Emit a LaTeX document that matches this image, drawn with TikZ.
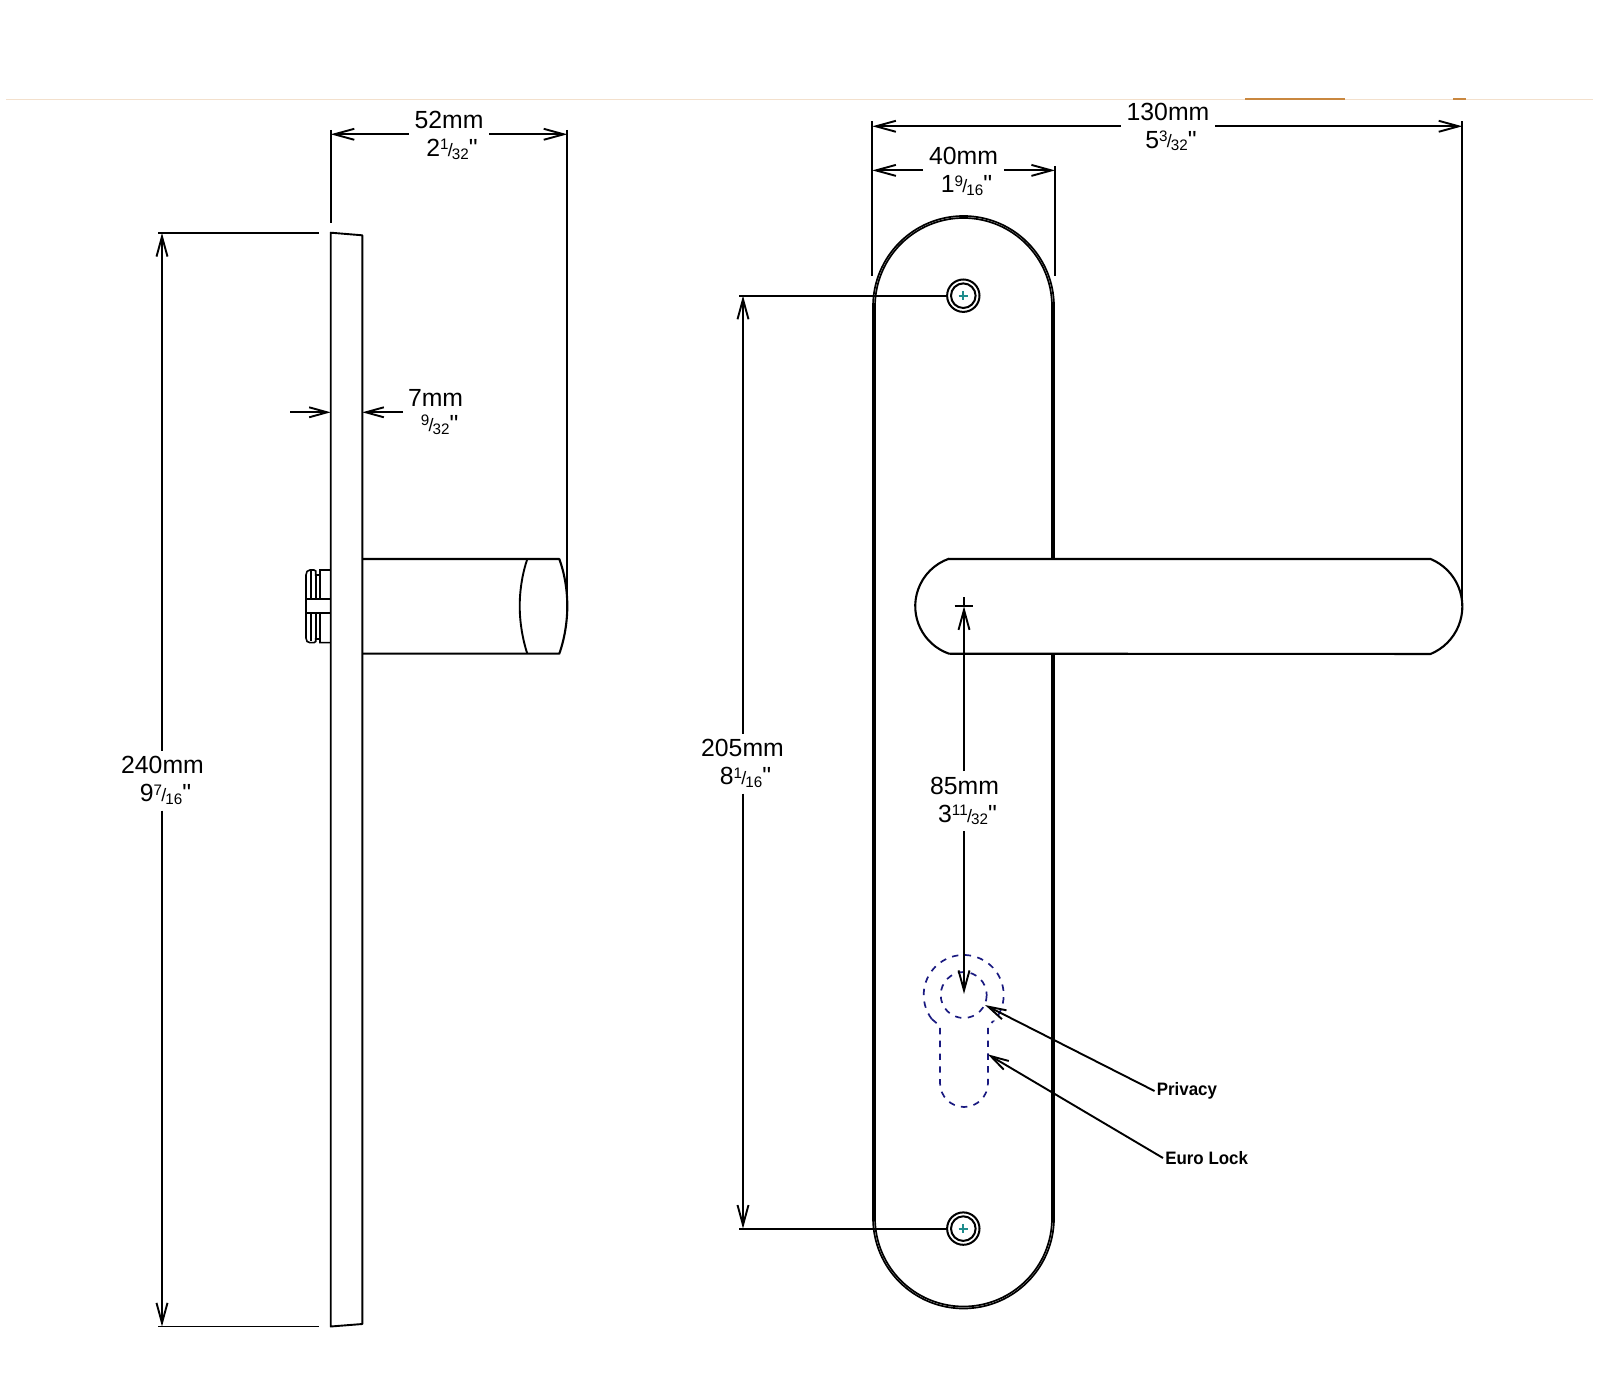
\documentclass[tikz,border=0pt]{standalone}
\usepackage{fontspec}
\setmainfont{Liberation Sans}
\newfontfamily\quotefont{Liberation Sans}[Ligatures=ResetAll]
\usetikzlibrary{arrows.meta}
\definecolor{rulefaint}{HTML}{F3E0CC}
\definecolor{ruledark}{HTML}{C9873F}
\definecolor{lockblue}{HTML}{1A1A80}
\definecolor{screwteal}{HTML}{1E8C8C}
\newcommand{\smallfs}{\fontsize{7.6}{8}\selectfont}
\newcommand{\fr}[3]{\kern3pt #1\raisebox{3.4pt}{\smallfs #2}\kern-0.3pt\raisebox{0.2pt}{\fontsize{9}{9}\selectfont /}\kern-0.5pt\raisebox{-1.2pt}{\smallfs #3}{\quotefont"}}
\tikzset{
  x=0.5pt,y=-0.5pt,
  part/.style={draw=black,line width=1.05pt,line join=round},
  thinpart/.style={draw=black,line width=0.8pt},
  dimline/.style={draw=black,line width=0.95pt},
  dimarrow/.style={dimline,-{Straight Barb[length=10pt,width=5.5pt,line width=0.95pt]}},
  smallarrow/.style={dimline,-{Straight Barb[length=9pt,width=5pt,line width=0.95pt]}},
  dimlabel/.style={font=\fontsize{12.4}{14}\selectfont,align=center,inner sep=3pt,outer sep=0pt},
  calllabel/.style={font=\fontsize{9}{10}\selectfont\bfseries,inner sep=1pt,anchor=west,xscale=0.94},
  lockline/.style={draw=lockblue,line width=0.85pt,dash pattern=on 3.2pt off 3.2pt},
  screwring/.style={circle,draw=black,line width=1pt,inner sep=0pt,fill=white},
  screwplus/.style={draw=screwteal,line width=0.95pt},
}
\begin{document}
\begin{tikzpicture}
\useasboundingbox (0,0) rectangle (1600,1400);
% top rule
\draw[rulefaint,line width=0.7pt] (6,99.5) -- (1593,99.5);
\draw[ruledark,line width=1pt] (1245,99.5) -- (1345,99.5);
\draw[ruledark,line width=1pt] (1453,99.5) -- (1466,99.5);

% ---------- side view ----------
\draw[part,line width=0.95pt] (330.7,1326.5) -- (330.7,232.7) -- (362.3,235.3) -- (362.3,1324) -- cycle;
% lever, side
\draw[part] (362.3,559) -- (559.3,559) .. controls (564.5,573) and (567.3,590) .. (567.3,606)
  .. controls (567.3,622) and (564.5,639) .. (559.3,653.7) -- (362.3,653.7);
\draw[part,line width=0.95pt] (527.3,559) .. controls (522.5,573) and (519.7,590) .. (519.7,606)
  .. controls (519.7,622) and (522.5,639) .. (527.3,653.7);
% knob
\draw[thinpart] (330.7,570) -- (320,570) -- (320,575) -- (315.7,575) -- (315.7,571)
  .. controls (315.7,570.3) and (315,570) .. (314,570) -- (310,570)
  .. controls (307.5,570) and (306,572) .. (306,575) -- (306,638)
  .. controls (306,641) and (307.5,642.7) .. (310,642.7) -- (314,642.7)
  .. controls (315,642.7) and (315.7,642.3) .. (315.7,641.5) -- (315.7,639) -- (320,639) -- (320,642.7) -- (330.7,642.7);
\draw[thinpart] (306,599.3) -- (330.7,599.3) (306,613.3) -- (330.7,613.3);
\draw[thinpart] (310.7,571) -- (310.7,599.3) (310.7,613.3) -- (310.7,641.5);
\draw[thinpart] (315.7,575) -- (315.7,599.3) (315.7,613.3) -- (315.7,639);
\draw[thinpart] (320,575) -- (320,599.3) (320,613.3) -- (320,639);

% 52 mm
\node[dimlabel,align=center,yshift=-0.55pt] (lab52) at (449,134.3) {52mm\\\fr{2}{1}{32}};
\coordinate (a52l) at (330.7,134.3);
\coordinate (a52r) at (567.3,134.3);
\coordinate (e52lt) at (330.7,130);
\coordinate (e52lb) at (330.7,223);
\coordinate (e52rt) at (567.3,130);
\coordinate (e52rb) at (567.3,615);
\draw[dimline] (e52lt) -- (e52lb);
\draw[dimline] (e52rt) -- (e52rb);
\draw[dimarrow] (lab52.west |- a52l) -- (a52l);
\draw[dimarrow] (lab52.east |- a52r) -- (a52r);

% 240 mm
\node[dimlabel,yshift=-1.3pt] (lab240) at (162.5,778) {240mm\\\fr{9}{7}{16}};
\coordinate (a240t) at (162,233);
\coordinate (a240b) at (162,1326.5);
\coordinate (e240te) at (319,233);
\coordinate (e240be) at (319,1326.5);
\coordinate (e240ts) at (158,233);
\coordinate (e240bs) at (158,1326.5);
\draw[dimline] (e240ts) -- (e240te);
\draw[dimline] (e240bs) -- (e240be);
\draw[dimarrow] (lab240.north -| a240t) -- (a240t);
\draw[dimarrow] (lab240.south -| a240b) -- (a240b);

% 7 mm
\node[dimlabel,inner sep=0pt,anchor=west] (lab7) at (408,412) {7mm\\[-1pt]\kern1pt\fr{}{9}{32}};
\coordinate (s7l) at (290,412.3);
\coordinate (a7l) at (330.7,412.3);
\coordinate (s7r) at (403,412.3);
\coordinate (a7r) at (362.3,412.3);
\draw[smallarrow] (s7l) -- (a7l);
\draw[smallarrow] (s7r) -- (a7r);

% ---------- front view ----------
\foreach \r/\lw in {90.5/0.85pt,88.5/0.85pt}{
  \draw[draw=black,line width=\lw] (963.5-\r,306.5) arc[start angle=180,end angle=360,radius=\r]
    -- (963.5+\r,1218) arc[start angle=0,end angle=180,radius=\r] -- cycle;
}
% lever, front
\draw[part,fill=white] (949,559) -- (1430.6,559) arc[start angle=-67.5,end angle=67.5,radius=51.4]
  -- (949,653.7) arc[start angle=109.2,end angle=250.8,radius=50.3] -- cycle;

% screws
\node[screwring,minimum size=16.2pt] (screwtop) at (963.3,295.7) {};
\node[screwring,minimum size=12.3pt] (screwtopin) at (963.3,295.7) {};
\node[screwring,minimum size=16.2pt] (screwbot) at (963.3,1228.6) {};
\node[screwring,minimum size=12.3pt] (screwbotin) at (963.3,1228.6) {};
\draw[screwplus] (958.6,295.7) -- (968,295.7) (963.3,291) -- (963.3,300.4);
\draw[screwplus] (958.6,1228.6) -- (968,1228.6) (963.3,1223.9) -- (963.3,1233.3);

% 130 mm
\node[dimlabel,yshift=-0.6pt] (lab130) at (1168,125.5) {130mm\\\fr{5}{3}{32}};
\coordinate (a130l) at (872.3,126.3);
\coordinate (a130r) at (1462.3,126.3);
\coordinate (e130lt) at (872.3,121.5);
\coordinate (e130lb) at (872.3,276);
\coordinate (e130rt) at (1462.3,121.5);
\coordinate (e130rb) at (1462.3,606);
\draw[dimline] (e130lt) -- (e130lb);
\draw[dimline] (e130rt) -- (e130rb);
\draw[dimarrow] (lab130.west |- a130l) -- (a130l);
\draw[dimarrow] (lab130.east |- a130r) -- (a130r);

% 40 mm
\node[dimlabel,yshift=-0.8pt] (lab40) at (963.5,170) {40mm\\\fr{1}{9}{16}};
\coordinate (a40l) at (872.3,170.4);
\coordinate (a40r) at (1055,170.4);
\coordinate (e40t) at (1055,166);
\coordinate (e40b) at (1055,276);
\draw[dimline] (e40t) -- (e40b);
\draw[dimarrow] (lab40.west |- a40l) -- (a40l);
\draw[dimarrow] (lab40.east |- a40r) -- (a40r);

% 205 mm
\node[dimlabel,yshift=-1.3pt] (lab205) at (742.5,761) {205mm\\\fr{8}{1}{16}};
\coordinate (a205t) at (743,295.7);
\coordinate (a205b) at (743,1228.6);
\coordinate (e205t) at (739,295.7);
\coordinate (e205b) at (739,1228.6);
\draw[dimline] (e205t) -- (screwtop);
\draw[dimline] (e205b) -- (screwbot);
\draw[dimarrow] (lab205.north -| a205t) -- (a205t);
\draw[dimarrow] (lab205.south -| a205b) -- (a205b);

% lock outline
\draw[lockline] (931.7,1019) arc[start angle=143.1,end angle=400.5,radius=40];
\draw[lockline] (963.7,995) circle[radius=23];
\draw[lockline] (931.7,1019) -- (940,1026) -- (940,1083)
  arc[start angle=180,end angle=0,radius=24] -- (988,1026) -- (993.5,1021);

% 85 mm
\node[dimlabel,yshift=-1.05pt] (lab85) at (964.5,799) {85mm\\\fr{3}{11}{32}};
\coordinate (a85t) at (964,606.3);
\coordinate (a85b) at (964,994);
\coordinate (c85l) at (954.7,606.3);
\coordinate (c85r) at (973,606.3);
\coordinate (c85t) at (964,597.3);
\draw[dimline] (c85l) -- (c85r);
\draw[dimline] (c85t) -- (a85t);
\draw[dimarrow] (lab85.north -| a85t) -- (a85t);
\draw[dimarrow] (lab85.south -| a85b) -- (a85b);

% callouts
\node[calllabel,yshift=-1pt] (privacy) at (1154.5,1089) {Privacy};
\node[calllabel,yshift=-0.5pt] (eurolock) at (1163,1157) {Euro Lock};
\coordinate (tipprivacy) at (985,1005);
\coordinate (tipeuro) at (987.7,1054.3);
\draw[smallarrow] (privacy.west) -- (tipprivacy);
\draw[smallarrow] (eurolock.west) -- (tipeuro);
\end{tikzpicture}
\end{document}
